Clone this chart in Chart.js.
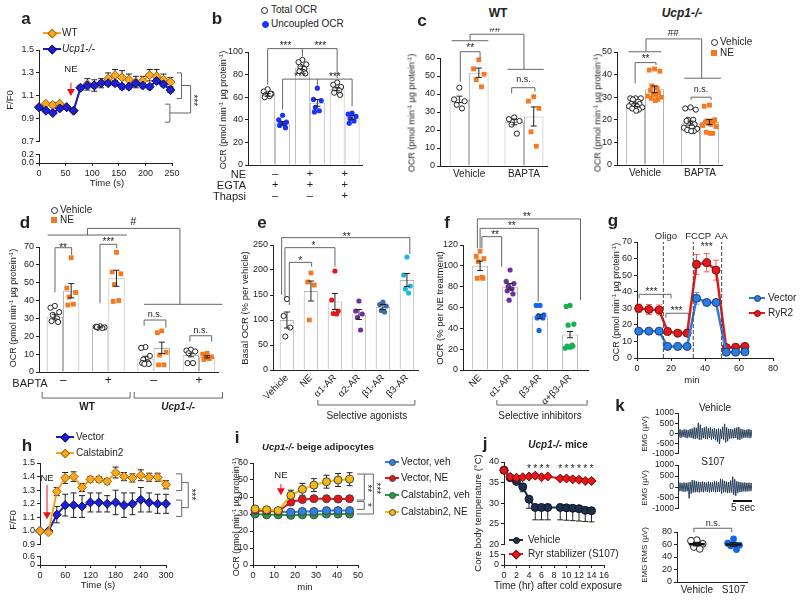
<!DOCTYPE html>
<html>
<head>
<meta charset="utf-8">
<title>Figure</title>
<script src="https://cdn.jsdelivr.net/npm/chart.js@4.4.1/dist/chart.umd.min.js"></script>
<style>
  body { margin: 0; background: #fff; }
  #fig { position: relative; width: 800px; height: 601px; overflow: hidden; background: #fff;
         font-family: "Liberation Sans", Arial, sans-serif; color: #222; }
  #fig canvas { position: absolute; }
  .t { position: absolute; white-space: nowrap; line-height: 1; font-size: 9px; transform: translate(-50%, -50%); }
  .lt { position: absolute; white-space: nowrap; line-height: 1; font-size: 10px; transform: translate(0, -50%); }
  .rt { position: absolute; white-space: nowrap; line-height: 1; font-size: 11px; transform: translate(-100%, -50%); }
  .rot { transform: translate(-50%, -50%) rotate(-90deg); }
  .pl { font-weight: bold; font-size: 17px; }
  sup { font-size: 6px; vertical-align: 3px; line-height: 0; }
  .mk { position: absolute; box-sizing: border-box; }
</style>
</head>
<body>
<div id="fig"></div>
<script>
// ---------- data ----------
// a: Ca imaging, F/F0
const aTime = [0,13,26,39,52,65,78,91,104,117,130,143,156,169,182,195,208,221,234,247];
const aWT    = [1.00,1.03,1.02,1.03,1.00,0.97,1.17,1.20,1.19,1.21,1.25,1.28,1.26,1.24,1.22,1.23,1.28,1.27,1.24,1.22];
const aWTErr = [0.01,0.01,0.02,0.01,0.01,0.01,0.02,0.05,0.05,0.04,0.05,0.05,0.06,0.05,0.05,0.04,0.05,0.06,0.05,0.04];
const aKO    = [1.00,0.97,0.95,0.99,1.00,0.97,1.17,1.19,1.19,1.21,1.21,1.21,1.18,1.18,1.21,1.19,1.18,1.23,1.20,1.15];
const aKOErr = [0.01,0.01,0.01,0.01,0.01,0.01,0.02,0.02,0.02,0.02,0.02,0.02,0.02,0.02,0.02,0.02,0.02,0.02,0.02,0.02];
const aLowTicks = [0, 0.2];

// b: total / uncoupled OCR
const bNE     = ['–','+','+'];
const bEGTA   = ['+','+','+'];
const bThapsi = ['–','–','+'];
const bTotal    = [62, 86, 67];
const bTotalErr = [1.2, 1.6, 1.3];
const bUnc      = [37, 55, 42];
const bUncErr   = [1.5, 3.0, 1.8];
const bTotalPts = [[67,65,63,62,61,60,63],[93,91,89,87,85,83,81],[73,71,69,67,66,64,62]];
const bUncPts   = [[44,40,38,37,36,35,33],[68,58,57,51,48,47],[46,45,43,41,39,37]];

// c: WT and Ucp1-/- with BAPTA
const cCats = ['Vehicle', 'BAPTA'];
const cwVeh = [37, 24.5],   cwVehErr = [1.8, 1.6];
const cwNE  = [51.8, 27.5], cwNEErr  = [2.6, 5.3];
const cwVehPts = [[43.5,37,36,34,32],[27,26,25,23,18]];
const cwNEPts  = [[59,54,51,48,44],[38.5,36,32,19,11]];
const ckVeh = [26.5, 18.5], ckVehErr = [0.6, 0.9];
const ckNE  = [33.5, 19],   ckNEErr  = [1.5, 1.1];
const ckVehPts = [[29.5,29.5,29.5,29,28,27,27,26.5,26,26,25.5,25,24.5,24],[25.5,25,24.5,20,20,19.5,18,17.5,17,16.5,16,15.5,15,15]];
const ckNEPts  = [[42.5,42,41.5,35,34,33,32,31.5,31,30.5,30,29.5,29,28.5],[26.5,26,20,19.5,19.5,19,19,18.5,18,17.5,17,14.5,14,14]];

// d: WT / Ucp1-/- with BAPTA
const dBapta = ['–','+','–','+'];
const dVeh = [31, 25, 7.5, 9.5],   dVehErr = [1.3, 0.3, 1.3, 1.0];
const dNE  = [45.5, 52.5, 13.5, 8.5], dNEErr = [4, 4.5, 3.2, 0.6];
const dVehPts = [[37,36,33.5,32,30,28.5,28],[25.6,25.3,25,24.8,24.6,25.2],[14,13.5,9,7,5.5,5,4.5,4.5],[12.5,12,11.5,10.5,5,5]];
const dNEPts  = [[64,47,44.5,42,38,37.5],[67,56,55,49,40,39.5],[23,22,11,9.5,4,4],[10.5,10,8.5,8,7.5,7]];

// e: selective agonists
const eCats = ['Vehicle','NE','α1-AR','α2-AR','β1-AR','β3-AR'];
const eMean = [100, 158, 137, 111, 126, 180];
const eErr  = [16, 20, 16, 10, 5, 13];
const ePts  = [[142,108,85,67],[194,176,170,100],[198,140,118,113,112],[138,118,112,105,80],[136,131,128,119,116],[226,190,168,162,154]];

// f: selective inhibitors
const fCats = ['NE','α1-AR','β3-AR','α+β3-AR'];
const fMean = [100, 80, 51.5, 34];
const fErr  = [4.5, 3, 2, 3];
const fPts  = [[114,109,107,104,89,88,88],[96,85,83,80,78,76,73,67],[62,62,53,52,51,50,50,38],[62,61,44,43,24,23,23,22,22,21]];

// g: Seahorse trace
const gTime      = [1,7,13,18,24,29.5,35,41,46.5,52.5,58,63.5];
const gVector    = [16.2,16.2,16.2,7,7,7,36,33.5,33.5,3.5,3.5,3.7];
const gVectorErr = [0.5,0.5,0.5,0.4,0.4,0.4,3.5,1.5,1.2,0.3,0.3,0.3];
const gRyR2      = [30,29.3,29,16,15,15,56.5,57.5,53,6.3,6.5,7];
const gRyR2Err   = [2.5,3,3,2,1.5,1.5,6,5.5,6,0.8,0.8,0.8];
const gInject    = [15.5, 33.1, 49.8];

// h: Ca imaging with calstabin2
const hTime      = [0,20,40,60,80,100,120,140,160,180,200,220,240,260,280,300];
const hVector    = [1.00,1.00,1.12,1.19,1.19,1.18,1.21,1.21,1.20,1.21,1.19,1.20,1.23,1.21,1.20,1.20];
const hVectorErr = [0.005,0.005,0.06,0.08,0.09,0.08,0.07,0.07,0.06,0.09,0.09,0.08,0.09,0.07,0.07,0.07];
const hCal       = [1.00,0.99,1.29,1.39,1.40,1.32,1.38,1.38,1.365,1.43,1.40,1.39,1.41,1.395,1.395,1.34];
const hCalErr    = [0.01,0.01,0.03,0.04,0.035,0.03,0.02,0.02,0.02,0.04,0.03,0.03,0.04,0.03,0.03,0.03];
const hLowTicks  = [0, 0.6];

// i: Ucp1-/- beige adipocytes OCR
const iTime   = [1,6.5,12,18,23.5,29,35,40.5,46];
const iVecVeh = [32.5,32,31.5,31,31.5,31.5,32,32,32];
const iVecNE  = [32,31.8,31.5,37,38.5,39,39,38.8,39];
const iCalVeh = [30,29.5,29.5,29.2,29.5,29.5,30,30,30];
const iCalNE  = [33,32.5,32,41,44.5,47,49,50,50.5];
const iSmallErr = [0.6,0.6,0.6,0.6,0.6,0.6,0.6,0.6,0.6];
const iVecNEErr = [1,1,1,1.5,1.2,1,1,1,1];
const iCalNEErr = [1.5,1.5,1.2,3,3.5,3.8,3.8,3.8,3.8];

// j: core body temperature
const jTime       = [0,1,2,3,4,5,6,7,9,10,11,12,13,14];
const jVehicle    = [38,36.2,35.3,34,31,29,29,29,29,28.9,28.8,28.7,28.3,28.2];
const jVehicleErr = [0.3,0.5,0.6,1.2,2.2,3,3,3,3,3,3,3,2.7,2.7];
const jS107       = [38,36.4,36.2,36.3,36.5,36.7,36.3,36.5,36.0,36.0,35.8,35.7,35.4,35.4];
const jS107Err    = [0.3,0.4,0.4,0.4,0.4,0.4,0.4,0.4,0.5,0.5,0.5,0.5,0.5,0.5];
const jSigHours   = [4,5,6,7,9,10,11,12,13,14];
const jLowTicks   = [0, 15];

// k: EMG envelopes (µV) and RMS
const emgVehTop    = [180,210,160,200,190,170,220,240,300,280,520,430,260,300,340,250,310,230,260,220,240,210,330,470,300,230,220,200,260,290,320,230,200,180,190,220,180];
const emgVehBottom = [-190,-210,-170,-200,-230,-190,-210,-250,-260,-240,-310,-300,-230,-260,-280,-220,-300,-250,-330,-420,-515,-260,-300,-440,-380,-260,-240,-230,-220,-300,-310,-250,-220,-200,-210,-230,-200];
const emgS107Top    = [190,200,180,210,190,200,230,310,300,260,240,220,250,230,200,240,220,210,260,250,230,370,340,280,240,230,300,470,350,260,240,220,200,210,190,200,180];
const emgS107Bottom = [-200,-190,-210,-220,-200,-520,-300,-250,-240,-230,-250,-220,-240,-200,-230,-250,-220,-210,-240,-230,-220,-300,-250,-240,-280,-260,-250,-360,-400,-280,-230,-220,-200,-210,-200,-190,-200];
const emgTicks = [-1000, -500, 0, 500, 1000];
const kCats   = ['Vehicle', 'S107'];
const kVehPts = [67,66,61,56,53];
const kS107Pts = [69,62,59,58,52];
const kMean = [60.5, 60];
const kErr  = [2.6, 2.8];

// ---------- setup ----------
const FONT = '"Liberation Sans", Arial, sans-serif';
Chart.defaults.font.family = FONT;
Chart.defaults.font.size = 9;
Chart.defaults.color = '#222';
const fig = document.getElementById('fig');
const GRAY = '#666';
const STAR = '10px ' + FONT;
const NS = '9px ' + FONT;
const OCR = 'OCR (pmol min<sup>-1</sup> µg protein<sup>-1</sup>)';

function txt(html, x, y, cls, css) {
  const d = document.createElement('div');
  d.className = cls || 't';
  d.innerHTML = html;
  d.style.left = x + 'px';
  d.style.top = y + 'px';
  if (css) d.style.cssText += css;
  fig.appendChild(d);
}

function marker(x, y, shape, fill, edge, line, len) {
  if (line) {
    const ln = document.createElement('div');
    ln.className = 'mk';
    ln.style.cssText += `left:${x - len / 2}px;top:${y - 1}px;width:${len}px;height:2px;background:${line}`;
    fig.appendChild(ln);
  }
  const sz = shape === 'diamond' ? 6.5 : shape === 'square' ? 6 : 7;
  const s = document.createElement('div');
  s.className = 'mk';
  s.style.cssText += `left:${x - sz / 2}px;top:${y - sz / 2}px;width:${sz}px;height:${sz}px;background:${fill};border:1px solid ${edge};` +
    (shape === 'circle' ? 'border-radius:50%;' : '') + (shape === 'diamond' ? 'transform:rotate(45deg);' : '');
  fig.appendChild(s);
}

// error bars read from dataset.err
function drawErr(chart, when) {
  const ctx = chart.ctx, ys = chart.scales.y;
  chart.data.datasets.forEach((ds, di) => {
    if (!ds.err || (ds.errWhen || 'after') !== when) return;
    const meta = chart.getDatasetMeta(di);
    ctx.save();
    ctx.strokeStyle = ds.errColor || '#222';
    ctx.lineWidth = ds.errWidth || 1;
    meta.data.forEach((el, i) => {
      const raw = ds.data[i];
      const v = typeof raw === 'object' ? raw.y : raw;
      const e = ds.err[i];
      if (!e) return;
      const up = ds.errDir !== 'down', dn = ds.errDir !== 'up';
      const cap = ds.errCap || 3;
      const y1 = ys.getPixelForValue(up ? v + e : v);
      const y2 = ys.getPixelForValue(dn ? v - e : v);
      ctx.beginPath();
      ctx.moveTo(el.x, y1); ctx.lineTo(el.x, y2);
      if (up) { ctx.moveTo(el.x - cap, y1); ctx.lineTo(el.x + cap, y1); }
      if (dn) { ctx.moveTo(el.x - cap, y2); ctx.lineTo(el.x + cap, y2); }
      ctx.stroke();
    });
    ctx.restore();
  });
}
const errBars = {
  id: 'errBars',
  beforeDatasetsDraw(chart) { drawErr(chart, 'before'); },
  afterDatasetsDraw(chart) { drawErr(chart, 'after'); }
};

// brackets, stars, arrows in data coordinates
const annot = {
  id: 'annot',
  afterDraw(chart) {
    const items = chart.canvas.$annot;
    if (!items) return;
    const ctx = chart.ctx;
    const X = v => chart.scales.x.getPixelForValue(v);
    const Y = v => chart.scales.y.getPixelForValue(v);
    items.forEach(it => {
      ctx.save();
      if (it.l) {
        ctx.beginPath();
        ctx.strokeStyle = it.c || GRAY;
        ctx.lineWidth = it.w || 1;
        ctx.setLineDash(it.dash || []);
        it.l.forEach((p, k) => k ? ctx.lineTo(X(p[0]), Y(p[1])) : ctx.moveTo(X(p[0]), Y(p[1])));
        ctx.stroke();
      }
      if (it.arrow) {
        const [ax, a1, a2] = it.arrow;
        const px = X(ax), p1 = Y(a1), p2 = Y(a2);
        ctx.strokeStyle = ctx.fillStyle = '#e8141c';
        ctx.lineWidth = 1;
        ctx.beginPath(); ctx.moveTo(px, p1); ctx.lineTo(px, p2 - 6); ctx.stroke();
        ctx.beginPath(); ctx.moveTo(px - 4, p2 - 7); ctx.lineTo(px + 4, p2 - 7); ctx.lineTo(px, p2); ctx.closePath(); ctx.fill();
      }
      if (it.t) {
        ctx.translate(X(it.x), Y(it.y));
        if (it.rot) ctx.rotate(it.rot * Math.PI / 180);
        ctx.fillStyle = it.c || '#222';
        ctx.font = it.f || NS;
        ctx.textAlign = 'center';
        ctx.textBaseline = 'middle';
        const dy = /^\*+$/.test(it.t) ? 2 : 0;
        ctx.fillText(it.t, 0, dy);
      }
      ctx.restore();
    });
  }
};
Chart.register(errBars, annot);

// box = plot area [left, top, right, bottom] in page pixels
function panel(box, pad, cfg, notes) {
  const W = box[2] - box[0] + pad.y + pad.r;
  const H = box[3] - box[1] + pad.t + pad.x;
  const cv = document.createElement('canvas');
  cv.width = W; cv.height = H;
  cv.style.left = (box[0] - pad.y) + 'px';
  cv.style.top = (box[1] - pad.t) + 'px';
  cv.style.width = W + 'px';
  cv.style.height = H + 'px';
  cv.$annot = notes || [];
  fig.appendChild(cv);
  const o = cfg.options;
  o.responsive = false;
  o.animation = false;
  o.devicePixelRatio = 1;
  o.layout = { padding: { left: 0, top: pad.t, right: pad.r, bottom: 0 } };
  o.plugins = Object.assign({ legend: { display: false }, tooltip: { enabled: false } }, o.plugins || {});
  o.scales.x.afterFit = s => { s.height = pad.x; };
  o.scales.y.afterFit = s => { s.width = pad.y; };
  return new Chart(cv, cfg);
}

function axis(min, max, step, t, o) {
  return Object.assign({
    type: 'linear', min: min, max: max, offset: false,
    border: { color: '#222', width: 1 },
    grid: { drawOnChartArea: false, drawTicks: true, tickLength: 3, color: '#222', offset: false },
    ticks: Object.assign({ stepSize: step, padding: 2, font: { size: 9 }, color: '#222', maxRotation: 0, autoSkip: false }, t || {})
  }, o || {});
}
function fixedTicks(list) {
  return { afterBuildTicks: s => { s.ticks = list.map(v => ({ value: v })); } };
}
// category-like axis on a linear scale so that dots can be spread around a bar
function catAxis(min, max, labels, size, rot) {
  return {
    type: 'linear', min: min, max: max, offset: false,
    border: { color: '#222', width: 1 },
    grid: { drawOnChartArea: false, drawTicks: false, offset: false },
    afterBuildTicks: s => { s.ticks = labels.map((l, i) => ({ value: i })); },
    ticks: { autoSkip: false, padding: 3, font: { size: size, lineHeight: 1 }, color: '#222',
             minRotation: rot || 0, maxRotation: rot || 0, callback: v => labels[v] }
  };
}

const JIT = [0, -0.8, 0.8, -0.4, 0.4, -0.6, 0.6, -0.2, 0.2, -1, 1, -0.5, 0.5, 0.1];
function dots(vals, cx, half) {
  return vals.map((v, j) => ({ x: cx + JIT[j % JIT.length] * half, y: v }));
}
function barDs(vals, err, cp) {
  return { type: 'bar', data: vals.map((v, i) => ({ x: i, y: v })), err: err,
           backgroundColor: '#fff', borderColor: '#b4b4b4', borderWidth: 1,
           categoryPercentage: cp, barPercentage: 1, order: 3 };
}
function dotDs(pts, st) {
  return Object.assign({ type: 'scatter', data: pts, order: 1, clip: false,
                         pointRadius: 2.6, pointBorderWidth: 1, pointStyle: 'circle' }, st);
}
const OPEN = { backgroundColor: '#fff', borderColor: '#222', pointBackgroundColor: '#fff', pointBorderColor: '#222' };
function filled(c, shape, r) {
  return { backgroundColor: c, borderColor: c, pointBackgroundColor: c, pointBorderColor: c,
           pointBorderWidth: 0, pointStyle: shape || 'circle', pointRadius: r || 2.6 };
}
const ORANGE = '#f47920';
function lineDs(xs, ys, err, st) {
  return Object.assign({ type: 'line', data: xs.map((x, i) => ({ x: x, y: ys[i] })), err: err, errWhen: 'before',
                         tension: 0, clip: false, borderWidth: 2, pointBorderWidth: 1 }, st);
}
const WT_ST  = { borderColor: '#f5a21e', pointBackgroundColor: '#f8a823', pointBorderColor: '#a86400', pointStyle: 'rectRot', pointRadius: 4.5 };
const KO_ST  = { borderColor: '#1a1acc', pointBackgroundColor: '#1f1fd6', pointBorderColor: '#0a0a60', pointStyle: 'rectRot', pointRadius: 4.5 };
// a pair-of-bars panel (vehicle / NE) with dots
function pairSets(cp, veh, vehErr, ne, neErr, vehPts, nePts) {
  const off = cp / 4;
  const ds = [barDs(veh, vehErr, cp), barDs(ne, neErr, cp)];
  vehPts.forEach((p, i) => ds.push(dotDs(dots(p, i - off, 0.12), OPEN)));
  nePts.forEach((p, i) => ds.push(dotDs(dots(p, i + off, 0.12), filled(ORANGE, 'rect', 3.4))));
  return ds;
}

// ---------- a ----------
panel([39, 50, 172, 143], { y: 26, x: 6, t: 8, r: 30 }, {
  type: 'line',
  data: { datasets: [lineDs(aTime, aKO, aKOErr, KO_ST), lineDs(aTime, aWT, aWTErr, WT_ST)] },
  options: { scales: { x: axis(0, 250, 50, null, { display: false }),
                       y: axis(0.7, 1.5, 0.2, { callback: v => v.toFixed(1) }) } }
}, [
  { arrow: [60, 1.213, 1.098] }, { t: 'NE', x: 60, y: 1.33, f: '9.5px ' + FONT },
  { l: [[259, 1.30], [268, 1.30], [268, 1.076], [259, 1.076]] },
  { l: [[237, 1.027], [246, 1.027], [246, 0.87], [237, 0.87]] },
  { l: [[268, 1.19], [285, 1.19], [285, 0.95], [246, 0.95]] },
  { t: '***', x: 293, y: 1.06, rot: 90, f: STAR }
]);
panel([39, 153, 172, 163], { y: 26, x: 14, t: 6, r: 10 }, {
  type: 'line', data: { datasets: [] },
  options: { scales: { x: axis(0, 250, 50),
                       y: Object.assign(axis(0, 0.2, 0.2, { callback: v => v.toFixed(1) }), fixedTicks(aLowTicks)) } }
});
marker(52, 33, 'diamond', '#f8a823', '#a86400', '#f5a21e', 18);
marker(52, 49, 'diamond', '#1f1fd6', '#0a0a60', '#1a1acc', 18);
txt('WT', 62, 33, 'lt');
txt('<i>Ucp1-/-</i>', 62, 49, 'lt');
txt('F/F0', 10, 100, 't rot', 'font-size:9.5px');
txt('Time (s)', 107, 183, 't', 'font-size:9.5px');

// ---------- b ----------
{
  const cp = 0.86, off = cp / 4;
  const ds = [barDs(bTotal, bTotalErr, cp), barDs(bUnc, bUncErr, cp)];
  bTotalPts.forEach((p, i) => ds.push(dotDs(dots(p, i - off, 0.14), OPEN)));
  bUncPts.forEach((p, i) => ds.push(dotDs(dots(p, i + off, 0.14), filled('#1a33ff'))));
  const rows = bNE.map((v, i) => [v, bEGTA[i], bThapsi[i]]);
  panel([248, 52, 362, 165], { y: 24, x: 40, t: 16, r: 6 }, {
    type: 'bar', data: { datasets: ds },
    options: { scales: { x: catAxis(-0.78, 2.5, rows, 11), y: axis(0, 100, 20) } }
  }, [
    { l: [[-off, 71], [-off, 103], [2 - off, 103], [2 - off, 77]] },
    { l: [[1 - off, 103], [1 - off, 96]] },
    { t: '***', x: 0.3, y: 106.5, f: STAR }, { t: '***', x: 1.3, y: 106.5, f: STAR },
    { l: [[off, 49], [off, 76], [2 + off, 76], [2 + off, 52]] },
    { l: [[1 + off, 76], [1 + off, 70]] },
    { t: '***', x: 0.72, y: 79.5, f: STAR }, { t: '***', x: 1.72, y: 79.5, f: STAR }
  ]);
  marker(264, 10, 'circle', '#fff', '#222');
  marker(265, 24, 'circle', '#1a33ff', '#1a33ff');
  txt('Total OCR', 271, 10, 'lt');
  txt('Uncoupled OCR', 271, 24, 'lt');
  txt('NE', 246, 174, 'rt');
  txt('EGTA', 246, 185, 'rt');
  txt('Thapsi', 246, 196, 'rt');
  txt(OCR, 223, 110, 't rot');
}

// ---------- c ----------
panel([440, 58, 547, 166], { y: 24, x: 16, t: 30, r: 6 }, {
  type: 'bar', data: { datasets: pairSets(0.71, cwVeh, cwVehErr, cwNE, cwNEErr, cwVehPts, cwNEPts) },
  options: { scales: { x: catAxis(-0.53, 1.42, cCats, 10), y: axis(0, 60, 10) } }
}, [
  { l: [[-0.16, 46.8], [-0.16, 63.5], [0.2, 63.5], [0.2, 59.8]] }, { t: '**', x: 0.02, y: 66.3, f: STAR },
  { l: [[0.776, 40.4], [0.776, 43.5], [1.2, 43.5], [1.2, 41.3]] }, { t: 'n.s.', x: 0.99, y: 47.8, f: NS },
  { l: [[-0.315, 69.6], [0.35, 69.6]] }, { l: [[0.70, 53.7], [1.36, 53.7]] },
  { l: [[0.018, 69.6], [0.018, 73.2], [1.0, 73.2], [1.0, 53.7]] }, { t: '##', x: 0.473, y: 75.8, f: '10px ' + FONT }
]);
txt('WT', 498, 13, 't', 'font-size:12px;font-weight:bold');
txt(OCR, 412, 113, 't rot');

panel([617, 52, 722, 165], { y: 24, x: 16, t: 22, r: 6 }, {
  type: 'bar', data: { datasets: pairSets(0.69, ckVeh, ckVehErr, ckNE, ckNEErr, ckVehPts, ckNEPts) },
  options: { scales: { x: catAxis(-0.51, 1.4, cCats, 10), y: axis(0, 50, 10) } }
}, [
  { l: [[-0.18, 36.1], [-0.18, 45.3], [0.2, 45.3], [0.2, 44.2]] }, { t: '**', x: 0.01, y: 47.6, f: STAR },
  { l: [[0.836, 28.8], [0.836, 30], [1.2, 30], [1.2, 28.8]] }, { t: 'n.s.', x: 1.02, y: 33.2, f: NS },
  { l: [[-0.30, 50.1], [0.30, 50.1]] }, { l: [[0.715, 38.4], [1.38, 38.4]] },
  { l: [[0.018, 50.1], [0.018, 55.8], [1.03, 55.8], [1.03, 38.4]] }, { t: '##', x: 0.515, y: 58.5, f: '10px ' + FONT }
]);
txt('<i>Ucp1-/-</i>', 682, 13, 't', 'font-size:12px;font-weight:bold');
txt(OCR, 598, 113, 't rot');
marker(714, 42, 'circle', '#fff', '#222');
marker(714, 53, 'square', ORANGE, ORANGE);
txt('Vehicle', 720, 42, 'lt');
txt('NE', 720, 53, 'lt');

// ---------- d ----------
panel([39, 247, 218, 372], { y: 24, x: 44, t: 30, r: 8 }, {
  type: 'bar', data: { datasets: pairSets(0.72, dVeh, dVehErr, dNE, dNEErr, dVehPts, dNEPts) },
  options: { scales: { x: catAxis(-0.53, 3.42, dBapta, 12), y: axis(0, 70, 10) } }
}, [
  { l: [[-0.177, 44.6], [-0.177, 69.6], [0.19, 69.6], [0.19, 65.5]] }, { t: '**', x: 0.0, y: 70.7, f: STAR },
  { l: [[0.816, 38.5], [0.816, 71.5], [1.185, 71.5], [1.185, 69.3]] }, { t: '***', x: 1.0, y: 73.9, f: STAR },
  { l: [[1.79, 25.9], [1.79, 29.1], [2.27, 29.1], [2.27, 24.8]] }, { t: 'n.s.', x: 2.03, y: 32.3, f: NS },
  { l: [[2.8, 17], [2.8, 20.3], [3.28, 20.3], [3.28, 17]] }, { t: 'n.s.', x: 3.04, y: 23.5, f: NS },
  { l: [[-0.34, 76.7], [1.41, 76.7]] }, { l: [[1.79, 37.9], [3.52, 37.9]] },
  { l: [[0.54, 76.7], [0.54, 80.4], [2.58, 80.4], [2.58, 37.9]] }, { t: '#', x: 1.55, y: 83.8, f: '11px ' + FONT },
  { l: [[-0.46, -11.2], [-0.46, -14.6], [1.48, -14.6], [1.48, -11.2]] },
  { l: [[1.57, -11.2], [1.57, -14.6], [3.52, -14.6], [3.52, -11.2]] },
  { t: 'WT', x: 0.53, y: -19.6, f: 'bold 10px ' + FONT },
  { t: 'Ucp1-/-', x: 2.54, y: -19.6, f: 'italic bold 10px ' + FONT }
]);
marker(54, 210, 'circle', '#fff', '#222');
marker(54, 220, 'square', ORANGE, ORANGE);
txt('Vehicle', 60, 210, 'lt');
txt('NE', 60, 220, 'lt');
txt('BAPTA', 30, 383, 't', 'font-size:11px');
txt(OCR, 13, 308, 't rot');

// ---------- e ----------
{
  const eStyles = [OPEN, filled(ORANGE, 'rect', 3.4), filled('#e8141c'), filled('#7030a0'), filled('#3e6aa8'), filled('#1eb4e6')];
  const ds = [barDs(eMean, eErr, 0.6)];
  ePts.forEach((p, i) => ds.push(dotDs(dots(p, i, 0.17), eStyles[i])));
  panel([273, 245, 418, 370], { y: 24, x: 52, t: 14, r: 6 }, {
    type: 'bar', data: { datasets: ds },
    options: { scales: { x: catAxis(-0.58, 5.46, eCats, 9.5, 45), y: axis(0, 250, 50) } }
  }, [
    { l: [[0.1, 130], [0.1, 215.3], [1.03, 215.3], [1.03, 206.7]] }, { t: '*', x: 0.55, y: 222, f: STAR },
    { l: [[-0.083, 143], [-0.083, 244.7], [2.0, 244.7], [2.0, 206.7]] }, { t: '*', x: 1.1, y: 251, f: STAR },
    { l: [[-0.22, 150], [-0.22, 264.7], [5.12, 264.7], [5.12, 232]] }, { t: '**', x: 2.49, y: 270, f: STAR },
    { l: [[1.29, -60], [1.29, -70], [5.33, -70], [5.33, -60]] },
    { t: 'Selective agonists', x: 3.33, y: -92, f: '10px ' + FONT }
  ]);
  txt('Basal OCR (% per vehicle)', 245, 308, 't rot', 'font-size:9.5px');
}

// ---------- f ----------
{
  const fStyles = [filled(ORANGE, 'rect', 3.4), filled('#7030a0'), filled('#1266f0'), filled('#18b050')];
  const ds = [barDs(fMean, fErr, 0.53)];
  fPts.forEach((p, i) => ds.push(dotDs(dots(p, i, 0.16), fStyles[i])));
  panel([463, 245, 588, 370], { y: 24, x: 52, t: 40, r: 8 }, {
    type: 'bar', data: { datasets: ds },
    options: { scales: { x: catAxis(-0.57, 3.6, fCats, 9.5, 45), y: axis(0, 120, 20) } }
  }, [
    { l: [[0.06, 116.8], [0.06, 128], [0.72, 128], [0.72, 99.2]] }, { t: '**', x: 0.5, y: 131.5, f: STAR },
    { l: [[0.0, 116.8], [0.0, 136], [1.94, 136], [1.94, 65.6]] }, { t: '**', x: 1.06, y: 139.5, f: STAR },
    { l: [[-0.09, 116.8], [-0.09, 145], [3.35, 145], [3.35, 67]] }, { t: '**', x: 1.56, y: 148.5, f: STAR },
    { l: [[0.56, -28.8], [0.56, -33.6], [3.57, -33.6], [3.57, -28.8]] },
    { t: 'Selective inhibitors', x: 2.0, y: -44.2, f: '10px ' + FONT }
  ]);
  txt('OCR (% per NE treatment)', 440, 308, 't rot', 'font-size:9.5px');
}

// ---------- g ----------
{
  const vec = { borderColor: '#2a7de1', pointBackgroundColor: '#2a7de1', pointBorderColor: '#1a3c7a', pointStyle: 'circle', pointRadius: 4, borderWidth: 2.5, errColor: '#5b9ef0' };
  const ryr = { borderColor: '#e31a1c', pointBackgroundColor: '#e31a1c', pointBorderColor: '#7a0c0c', pointStyle: 'circle', pointRadius: 4, borderWidth: 2.5, errColor: '#f06060' };
  const notes = gInject.map(x => ({ l: [[x, 0], [x, 70]], c: '#444', dash: [4, 2] }));
  notes.push(
    { t: 'Oligo', x: 17, y: 73.6, f: '9.5px ' + FONT }, { t: 'FCCP', x: 36, y: 73.6, f: '9.5px ' + FONT }, { t: 'AA', x: 49.5, y: 73.6, f: '9.5px ' + FONT },
    { l: [[1.2, 36], [1.2, 38.4], [20, 38.4], [20, 36]] }, { t: '***', x: 8.5, y: 41, f: STAR },
    { l: [[17, 24.3], [17, 27], [30.2, 27], [30.2, 24.3]] }, { t: '***', x: 23.3, y: 29.6, f: STAR },
    { t: '***', x: 41, y: 68.2, f: STAR }
  );
  panel([637, 242, 773, 358], { y: 22, x: 14, t: 10, r: 10 }, {
    type: 'line',
    data: { datasets: [lineDs(gTime, gVector, gVectorErr, vec), lineDs(gTime, gRyR2, gRyR2Err, ryr)] },
    options: { scales: { x: axis(0, 80, 20), y: axis(0, 70, 10) } }
  }, notes);
  marker(757, 298, 'circle', '#2a7de1', '#1a3c7a', '#2a7de1', 16);
  marker(757, 313, 'circle', '#e31a1c', '#7a0c0c', '#e31a1c', 16);
  txt('Vector', 768, 298, 'lt');
  txt('RyR2', 768, 313, 'lt');
  txt(OCR, 616, 302, 't rot');
  txt('min', 692, 380, 't', 'font-size:9.5px');
}

// ---------- h ----------
panel([40, 463, 166, 546], { y: 22, x: 6, t: 8, r: 34 }, {
  type: 'line',
  data: { datasets: [lineDs(hTime, hCal, hCalErr, WT_ST), lineDs(hTime, hVector, hVectorErr, KO_ST)] },
  options: { scales: { x: axis(0, 300, 60, null, { display: false }), y: axis(0.9, 1.5, 0.1) } }
}, [
  { arrow: [16.7, 1.34, 1.087] }, { t: 'NE', x: 16.7, y: 1.385, f: '9.5px ' + FONT },
  { l: [[323.8, 1.42], [337.4, 1.42], [337.4, 1.297], [323.8, 1.297]] },
  { l: [[323.8, 1.227], [337.4, 1.227], [337.4, 1.107], [323.8, 1.107]] },
  { l: [[337.4, 1.357], [353, 1.357], [353, 1.172], [337.4, 1.172]] },
  { t: '***', x: 363.5, y: 1.268, rot: 90, f: STAR }
]);
panel([40, 555, 166, 565], { y: 22, x: 14, t: 6, r: 10 }, {
  type: 'line', data: { datasets: [] },
  options: { scales: { x: axis(0, 300, 60), y: Object.assign(axis(0, 0.6, 0.6), fixedTicks(hLowTicks)) } }
});
marker(65, 437, 'diamond', '#1f1fd6', '#0a0a60', '#1a1acc', 18);
marker(65, 453, 'diamond', '#f8a823', '#a86400', '#f5a21e', 18);
txt('Vector', 76, 437, 'lt');
txt('Calstabin2', 76, 453, 'lt');
txt('F/F0', 13, 520, 't rot', 'font-size:9.5px');
txt('Time (s)', 98, 585, 't', 'font-size:9.5px');

// ---------- i ----------
{
  const circ = (c) => ({ borderColor: c, pointBackgroundColor: c, pointBorderColor: '#444', pointStyle: 'circle', pointRadius: 4 });
  const iCols = ['#2f80e8', '#e5141b', '#21a04a', '#f8b90e'];
  panel([253, 463, 358, 565], { y: 22, x: 14, t: 14, r: 28 }, {
    type: 'line',
    data: { datasets: [
      lineDs(iTime, iCalNE, iCalNEErr, circ(iCols[3])),
      lineDs(iTime, iVecNE, iVecNEErr, circ(iCols[1])),
      lineDs(iTime, iVecVeh, iSmallErr, circ(iCols[0])),
      lineDs(iTime, iCalVeh, iSmallErr, circ(iCols[2]))
    ] },
    options: { scales: { x: axis(0, 50, 10), y: axis(0, 60, 10) } }
  }, [
    { arrow: [13.3, 47.6, 41] }, { t: 'NE', x: 13.3, y: 53, f: '9.5px ' + FONT },
    { l: [[49.4, 53.5], [53, 53.5], [53, 38.2], [49.4, 38.2]] }, { t: '**', x: 55.3, y: 45.1, rot: 90, f: STAR },
    { l: [[49.4, 37.3], [53, 37.3], [53, 32.7], [49.4, 32.7]] }, { t: '*', x: 55.3, y: 35.3, rot: 90, f: STAR },
    { l: [[53, 53.5], [57.3, 53.5], [57.3, 30], [49.4, 30]] }, { t: '***', x: 59.6, y: 45.1, rot: 90, f: STAR }
  ]);
  const iNames = ['Vector, veh', 'Vector, NE', 'Calstabin2, veh', 'Calstabin2, NE'];
  const iY = [462, 478, 495, 512];
  iNames.forEach((n, k) => { marker(392, iY[k], 'circle', iCols[k], '#444', iCols[k], 14); txt(n, 401, iY[k], 'lt'); });
  txt('<i>Ucp1-/-</i> beige adipocytes', 318, 447, 't', 'font-size:9.5px;font-weight:bold');
  txt(OCR, 236, 517, 't rot');
  txt('min', 305, 587, 't', 'font-size:9.5px');
}

// ---------- j ----------
{
  const veh = { borderColor: '#1e2f4e', pointBackgroundColor: '#1e2f4e', pointBorderColor: '#0c1526', pointStyle: 'circle', pointRadius: 4, errDir: 'down' };
  const s107 = { borderColor: '#e8161b', pointBackgroundColor: '#e8161b', pointBorderColor: '#7a0a0a', pointStyle: 'rectRot', pointRadius: 4.5, errDir: 'up' };
  panel([504, 462, 604, 546], { y: 22, x: 6, t: 10, r: 8 }, {
    type: 'line',
    data: { datasets: [lineDs(jTime, jS107, jS107Err, s107), lineDs(jTime, jVehicle, jVehicleErr, veh)] },
    options: { scales: { x: axis(0, 16, 2, null, { display: false }), y: axis(20, 40, 5) } }
  }, jSigHours.map(h => ({ t: '*', x: h, y: 38.7, f: STAR })));
  panel([504, 553, 604, 565], { y: 22, x: 14, t: 6, r: 10 }, {
    type: 'line', data: { datasets: [] },
    options: { scales: { x: axis(0, 16, 2), y: Object.assign(axis(0, 15, 15), fixedTicks(jLowTicks)) } }
  });
  marker(516, 540, 'circle', '#1e2f4e', '#0c1526', '#1e2f4e', 14);
  marker(516, 554, 'diamond', '#e8161b', '#7a0a0a', '#e8161b', 14);
  txt('Vehicle', 528, 540, 'lt');
  txt('Ryr stabilizer (S107)', 528, 554, 'lt');
  txt('<i>Ucp1-/-</i> mice', 558, 445, 't', 'font-size:10px;font-weight:bold');
  txt('Core body temperature (°C)', 478, 513, 't rot', 'font-size:9.5px');
  txt('Time (hr) after cold exposure', 558, 586, 't', 'font-size:10px');
}

// ---------- k ----------
{
  function zigzag(top, bottom) {
    const out = [];
    top.forEach((v, i) => { out.push({ x: 2 * i, y: v }); out.push({ x: 2 * i + 1, y: bottom[i] }); });
    return out;
  }
  const trace = (top, bottom) => ({ type: 'line', data: zigzag(top, bottom), borderColor: '#1b3350', borderWidth: 0.9, pointRadius: 0, tension: 0 });
  const emgY = () => Object.assign(axis(-1000, 1000, 500, { callback: v => String(v), font: { size: 8.5 }, padding: 1 }), fixedTicks(emgTicks));
  panel([678, 413, 752, 454], { y: 28, x: 6, t: 6, r: 4 }, {
    type: 'line', data: { datasets: [trace(emgVehTop, emgVehBottom)] },
    options: { scales: { x: axis(0, 73, 10, null, { display: false }), y: emgY() } }
  });
  panel([678, 465, 752, 509], { y: 28, x: 6, t: 6, r: 4 }, {
    type: 'line', data: { datasets: [trace(emgS107Top, emgS107Bottom)] },
    options: { scales: { x: axis(0, 73, 10, null, { display: false }), y: emgY() } }
  });
  panel([677, 532, 752, 582], { y: 22, x: 16, t: 14, r: 6 }, {
    type: 'scatter',
    data: { datasets: [
      { type: 'scatter', data: kMean.map((v, i) => ({ x: i, y: v })), err: kErr, errCap: 4, errWidth: 1.5,
        pointStyle: 'line', pointRadius: 8, pointBorderWidth: 2.5, borderColor: '#111', pointBorderColor: '#111', order: 0, clip: false },
      dotDs(dots(kVehPts, 0, 0.2), Object.assign({}, OPEN, { pointRadius: 3.4 })),
      dotDs(dots(kS107Pts, 1, 0.2), filled('#1266f0', 'circle', 3.4))
    ] },
    options: { scales: { x: catAxis(-0.54, 1.38, kCats, 10), y: axis(0, 80, 20) } }
  }, [
    { l: [[-0.08, 79.5], [-0.08, 86], [0.95, 86], [0.95, 79.5]] }, { t: 'n.s.', x: 0.44, y: 94, f: NS }
  ]);
  txt('Vehicle', 715, 408, 't', 'font-size:10px');
  txt('S107', 713, 462, 't', 'font-size:10px');
  txt('EMG (µV)', 645, 434, 't rot', 'font-size:8px');
  txt('EMG (µV)', 645, 488, 't rot', 'font-size:8px');
  txt('EMG RMS (µV)', 645, 555, 't rot', 'font-size:8px');
  const bar = document.createElement('div');
  bar.className = 'mk';
  bar.style.cssText += 'left:733px;top:500px;width:19px;height:1.5px;background:#111';
  fig.appendChild(bar);
  txt('5 sec', 743, 508, 't', 'font-size:10px');
}

// panel letters
[['a', 26, 18], ['b', 217, 18], ['c', 422, 20], ['d', 25, 222], ['e', 262, 222], ['f', 447, 222],
 ['g', 613, 220], ['h', 27, 445], ['i', 237, 437], ['j', 485, 443], ['k', 620, 405]]
  .forEach(l => txt(l[0], l[1], l[2], 't pl'));
</script>
</body>
</html>
